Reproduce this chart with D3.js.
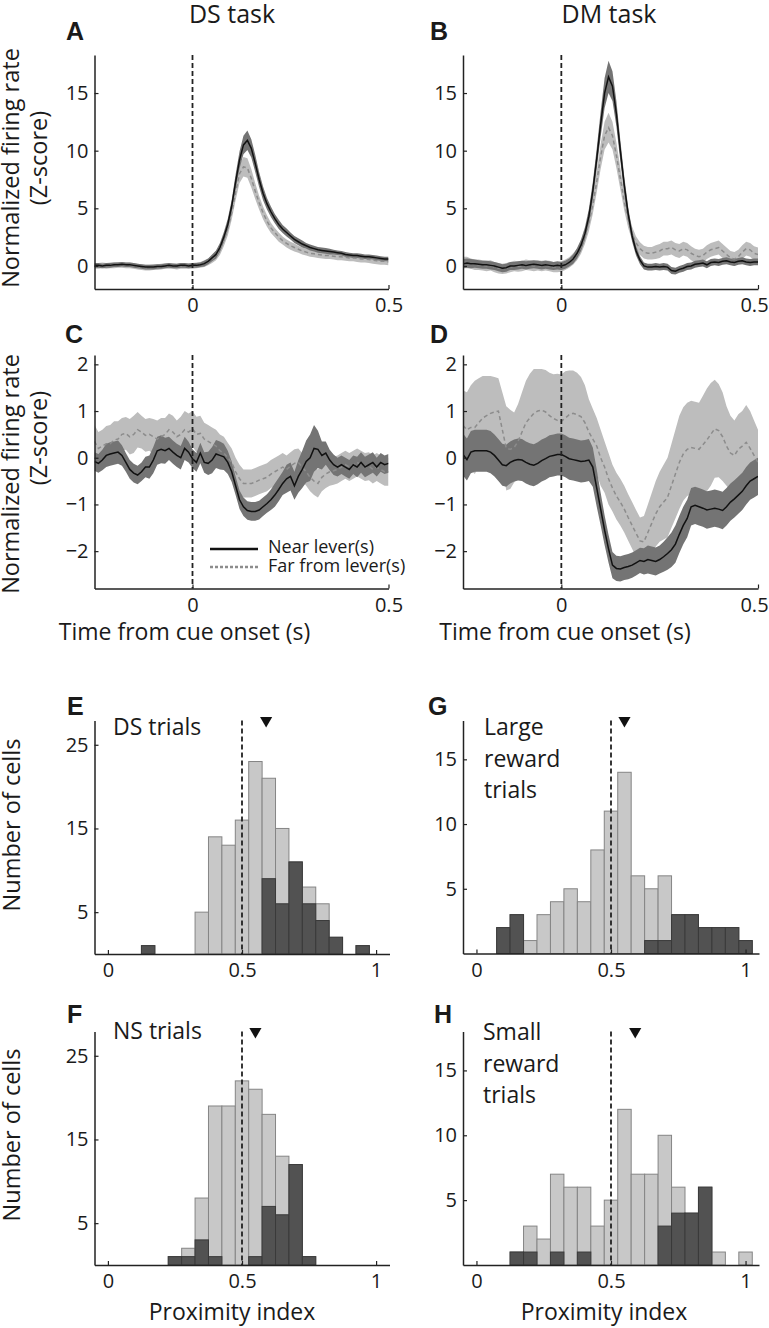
<!DOCTYPE html>
<html>
<head>
<meta charset="utf-8">
<script src="https://cdn.jsdelivr.net/npm/d3@7"></script>
<style>
  body { margin: 0; background: #fff; }
  svg text { font-family: 'Open Sans', sans-serif; fill: #1a1a1a; }
</style>
</head>
<body>
<div class="chart"></div>
<script>
// time bins (s) shared by the four PSTH panels
const times = [
  -0.25,-0.24,-0.23,-0.22,-0.21,-0.20,-0.19,-0.18,-0.17,-0.16,
  -0.15,-0.14,-0.13,-0.12,-0.11,-0.10,-0.09,-0.08,-0.07,-0.06,
  -0.05,-0.04,-0.03,-0.02,-0.01,0.00,0.01,0.02,0.03,0.04,
  0.05,0.06,0.07,0.08,0.09,0.10,0.11,0.12,0.13,0.14,
  0.15,0.16,0.17,0.18,0.19,0.20,0.21,0.22,0.23,0.24,
  0.25,0.26,0.27,0.28,0.29,0.30,0.31,0.32,0.33,0.34,
  0.35,0.36,0.37,0.38,0.39,0.40,0.41,0.42,0.43,0.44,
  0.45,0.46,0.47,0.48,0.49,0.50
];

// A: DS task, excited cells
const aNearMean = [
  0.05,0.05,0.0,0.05,0.05,0.1,0.1,0.15,0.1,0.1,
  0.05,0.0,-0.05,-0.1,-0.1,-0.1,-0.05,-0.05,0.0,0.05,
  0.0,0.0,0.05,0.05,0.0,0.05,0.05,0.1,0.2,0.4,
  0.7,1.0,1.6,2.5,3.6,5.2,7.3,9.2,10.5,10.9,
  10.2,8.9,7.5,6.3,5.4,4.7,4.1,3.6,3.2,2.9,
  2.6,2.3,2.1,1.9,1.75,1.6,1.5,1.4,1.35,1.3,
  1.25,1.2,1.15,1.1,1.0,0.95,0.9,0.9,0.85,0.8,
  0.8,0.75,0.7,0.65,0.6,0.6
];
const aNearSem = [
  0.2,0.2,0.2,0.2,0.2,0.2,0.2,0.2,0.2,0.2,
  0.2,0.2,0.2,0.2,0.2,0.2,0.2,0.2,0.2,0.2,
  0.2,0.2,0.2,0.2,0.2,0.2,0.2,0.2,0.25,0.25,
  0.3,0.35,0.4,0.45,0.5,0.55,0.65,0.75,0.8,0.85,
  0.8,0.75,0.65,0.6,0.5,0.45,0.4,0.4,0.35,0.35,
  0.3,0.3,0.3,0.3,0.25,0.25,0.25,0.25,0.25,0.25,
  0.25,0.2,0.2,0.2,0.2,0.2,0.2,0.2,0.2,0.2,
  0.2,0.2,0.2,0.2,0.2,0.2
];
const aFarMean = [
  0.0,0.0,0.05,0.0,0.05,0.05,0.1,0.1,0.05,0.05,
  0.0,-0.05,-0.1,-0.15,-0.15,-0.1,-0.1,-0.05,0.0,0.0,
  0.0,-0.05,0.0,0.0,0.0,0.0,0.05,0.1,0.2,0.35,
  0.6,0.9,1.4,2.2,3.2,4.6,6.4,8.0,8.6,8.5,
  7.6,6.5,5.5,4.6,3.9,3.3,2.9,2.5,2.2,1.95,
  1.75,1.6,1.45,1.3,1.2,1.1,1.05,1.0,0.95,0.9,
  0.9,0.85,0.8,0.8,0.75,0.7,0.7,0.65,0.6,0.6,
  0.55,0.5,0.45,0.4,0.4,0.35
];
const aFarSem = [
  0.25,0.25,0.25,0.25,0.25,0.25,0.25,0.25,0.25,0.25,
  0.25,0.25,0.25,0.25,0.25,0.25,0.25,0.25,0.25,0.25,
  0.25,0.25,0.25,0.25,0.25,0.25,0.25,0.25,0.3,0.3,
  0.35,0.4,0.45,0.5,0.55,0.6,0.7,0.8,0.85,0.85,
  0.8,0.7,0.6,0.55,0.5,0.45,0.4,0.4,0.35,0.35,
  0.35,0.35,0.3,0.3,0.3,0.3,0.3,0.3,0.3,0.3,
  0.3,0.3,0.3,0.3,0.3,0.3,0.3,0.3,0.3,0.3,
  0.3,0.3,0.3,0.3,0.3,0.3
];

// B: DM task, excited cells
const bNearMean = [
  0.2,0.25,0.2,0.2,0.15,0.1,0.1,0.05,0.0,-0.1,
  -0.2,-0.15,0.0,0.0,0.05,0.1,0.05,0.1,0.15,0.1,
  0.05,0.1,0.05,0.0,0.05,0.0,0.1,0.3,0.6,1.1,
  1.8,2.8,4.3,6.5,9.3,12.3,15.0,16.4,15.6,13.2,
  10.0,7.0,4.5,2.6,1.3,0.5,0.0,-0.1,-0.1,-0.05,
  -0.1,-0.05,-0.1,-0.4,-0.45,-0.3,-0.2,-0.05,0.0,0.15,
  0.2,0.25,0.1,0.3,0.35,0.3,0.4,0.45,0.35,0.3,
  0.4,0.45,0.35,0.3,0.35,0.35
];
const bNearSem = [
  0.4,0.4,0.4,0.35,0.35,0.35,0.35,0.35,0.35,0.35,
  0.35,0.35,0.35,0.35,0.35,0.35,0.35,0.35,0.35,0.35,
  0.35,0.35,0.35,0.35,0.35,0.35,0.35,0.35,0.4,0.45,
  0.5,0.55,0.65,0.75,0.9,1.1,1.3,1.4,1.3,1.1,
  0.9,0.75,0.6,0.5,0.4,0.35,0.3,0.3,0.3,0.3,
  0.3,0.3,0.3,0.3,0.3,0.3,0.3,0.3,0.3,0.3,
  0.3,0.3,0.3,0.3,0.3,0.3,0.3,0.3,0.3,0.3,
  0.3,0.3,0.3,0.3,0.3,0.3
];
const bFarMean = [
  0.3,0.3,0.2,0.1,0.1,0.05,0.0,0.05,-0.1,-0.2,
  -0.25,-0.2,-0.1,0.0,-0.05,0.0,0.1,0.05,0.0,0.05,
  0.0,0.05,0.0,-0.1,-0.1,-0.05,0.1,0.3,0.6,1.0,
  1.6,2.5,3.7,5.3,7.3,9.5,11.3,12.0,11.3,9.6,
  7.6,5.6,4.0,2.8,2.0,1.5,1.2,1.1,1.1,1.2,
  1.3,1.5,1.5,1.6,1.4,1.3,1.5,1.4,1.1,0.9,
  0.8,0.9,1.2,1.4,1.5,1.6,1.3,1.0,0.7,0.6,
  0.8,1.2,1.5,1.4,1.1,1.0
];
const bFarSem = [
  0.5,0.5,0.45,0.45,0.45,0.45,0.45,0.45,0.45,0.45,
  0.45,0.45,0.45,0.45,0.45,0.45,0.45,0.45,0.45,0.45,
  0.45,0.45,0.45,0.45,0.45,0.45,0.45,0.45,0.5,0.5,
  0.55,0.6,0.7,0.8,0.9,1.1,1.2,1.3,1.2,1.1,
  0.95,0.8,0.7,0.6,0.55,0.55,0.55,0.55,0.55,0.6,
  0.6,0.6,0.6,0.6,0.6,0.6,0.6,0.6,0.6,0.6,
  0.6,0.6,0.6,0.6,0.6,0.6,0.6,0.6,0.6,0.6,
  0.6,0.6,0.6,0.6,0.6,0.6
];

// C: DS task, inhibited cells
const cNearMean = [
  -0.08,-0.12,-0.05,0.05,0.08,0.1,0.12,0.05,-0.1,-0.25,
  -0.33,-0.37,-0.3,-0.2,-0.2,-0.05,0.15,0.18,0.15,0.2,
  0.12,0.05,0.0,0.2,0.12,-0.02,-0.1,0.1,-0.1,-0.12,
  -0.05,0.08,0.05,0.02,-0.1,-0.3,-0.6,-0.9,-1.05,-1.13,
  -1.15,-1.15,-1.12,-1.05,-0.98,-0.9,-0.8,-0.68,-0.55,-0.45,
  -0.4,-0.6,-0.4,-0.25,-0.08,0.0,0.2,0.18,0.05,0.1,
  -0.05,-0.15,-0.2,-0.15,-0.2,-0.25,-0.15,-0.2,-0.1,-0.2,
  -0.15,-0.1,-0.2,-0.1,-0.15,-0.12
];
const cNearSem = [
  0.2,0.2,0.22,0.25,0.25,0.25,0.25,0.22,0.2,0.2,
  0.2,0.2,0.2,0.22,0.25,0.28,0.3,0.3,0.28,0.25,
  0.25,0.25,0.25,0.25,0.22,0.2,0.2,0.22,0.22,0.25,
  0.28,0.3,0.3,0.28,0.25,0.22,0.2,0.2,0.2,0.2,
  0.2,0.2,0.2,0.2,0.2,0.22,0.25,0.25,0.25,0.3,
  0.3,0.3,0.35,0.4,0.45,0.5,0.5,0.4,0.3,0.25,
  0.22,0.22,0.2,0.2,0.2,0.2,0.2,0.22,0.22,0.22,
  0.22,0.22,0.2,0.2,0.2,0.2
];
const cFarMean = [
  0.35,0.2,0.25,0.3,0.3,0.38,0.4,0.5,0.52,0.45,
  0.5,0.6,0.55,0.48,0.5,0.45,0.4,0.45,0.5,0.6,
  0.55,0.45,0.5,0.6,0.55,0.62,0.5,0.52,0.4,0.35,
  0.3,0.25,0.15,0.1,0.0,-0.1,-0.3,-0.45,-0.55,-0.55,
  -0.55,-0.52,-0.48,-0.45,-0.42,-0.35,-0.3,-0.25,-0.2,-0.25,
  -0.18,-0.12,-0.1,-0.2,-0.3,-0.42,-0.5,-0.55,-0.42,-0.35,
  -0.3,-0.28,-0.25,-0.2,-0.15,-0.2,-0.15,-0.1,-0.15,-0.2,
  -0.18,-0.25,-0.2,-0.25,-0.3,-0.3
];
const cFarSem = [
  0.35,0.35,0.35,0.38,0.4,0.4,0.38,0.35,0.35,0.38,
  0.4,0.38,0.35,0.35,0.35,0.38,0.4,0.4,0.35,0.35,
  0.35,0.35,0.38,0.4,0.4,0.38,0.38,0.38,0.35,0.35,
  0.35,0.35,0.35,0.35,0.32,0.3,0.3,0.3,0.3,0.3,
  0.3,0.3,0.3,0.3,0.3,0.3,0.3,0.3,0.3,0.3,
  0.3,0.3,0.3,0.3,0.3,0.3,0.3,0.3,0.3,0.3,
  0.3,0.3,0.3,0.3,0.3,0.3,0.3,0.3,0.3,0.3,
  0.3,0.3,0.3,0.3,0.3,0.3
];

// D: DM task, inhibited cells
const dNearMean = [
  0.07,-0.04,0.12,0.15,0.15,0.15,0.15,0.12,0.05,-0.05,
  -0.15,-0.17,-0.1,-0.06,-0.04,-0.05,-0.1,-0.14,-0.16,-0.12,
  -0.06,-0.02,0.03,0.05,0.07,0.07,0.03,-0.02,-0.04,-0.06,
  -0.08,-0.07,-0.05,-0.2,-0.65,-1.1,-1.55,-1.95,-2.3,-2.37,
  -2.38,-2.35,-2.33,-2.3,-2.25,-2.2,-2.22,-2.18,-2.2,-2.22,
  -2.18,-2.12,-2.05,-1.97,-1.85,-1.64,-1.45,-1.3,-1.05,-1.02,
  -1.05,-1.08,-1.12,-1.1,-1.08,-1.1,-1.13,-1.05,-0.95,-0.88,
  -0.8,-0.72,-0.6,-0.5,-0.45,-0.4
];
const dNearSem = [
  0.45,0.45,0.45,0.45,0.45,0.45,0.45,0.45,0.45,0.45,
  0.45,0.45,0.45,0.45,0.45,0.45,0.45,0.45,0.45,0.45,
  0.45,0.45,0.45,0.45,0.45,0.45,0.45,0.45,0.45,0.45,
  0.45,0.45,0.45,0.42,0.4,0.35,0.32,0.3,0.28,0.27,
  0.27,0.27,0.27,0.27,0.27,0.27,0.28,0.3,0.3,0.3,
  0.3,0.32,0.35,0.37,0.4,0.4,0.4,0.4,0.4,0.4,
  0.4,0.4,0.4,0.4,0.4,0.4,0.4,0.4,0.4,0.4,
  0.4,0.4,0.4,0.4,0.4,0.4
];
const dFarMean = [
  0.69,0.6,0.65,0.65,0.75,0.85,0.9,0.95,0.98,1.0,
  0.6,0.2,0.18,0.22,0.35,0.55,0.75,0.85,0.95,1.0,
  1.02,0.98,0.9,0.84,0.8,0.78,0.85,0.92,0.95,0.92,
  0.88,0.75,0.55,0.4,0.25,0.0,-0.2,-0.45,-0.65,-0.82,
  -0.95,-1.1,-1.28,-1.45,-1.62,-1.78,-1.8,-1.6,-1.4,-1.2,
  -1.05,-0.95,-0.85,-0.6,-0.35,-0.1,0.08,0.18,0.22,0.2,
  0.18,0.28,0.38,0.5,0.62,0.58,0.45,0.25,0.1,0.05,
  0.18,0.25,0.33,0.2,0.05,-0.1
];
const dFarSem = [
  0.75,0.8,0.9,1.0,0.95,0.9,0.85,0.8,0.75,0.7,
  0.8,0.9,0.85,0.75,0.8,0.85,0.9,0.95,0.95,0.9,
  0.88,0.9,0.92,0.95,1.0,1.0,1.0,0.95,0.92,0.9,
  0.85,0.8,0.7,0.65,0.6,0.6,0.55,0.55,0.5,0.5,
  0.5,0.5,0.5,0.5,0.5,0.5,0.55,0.6,0.65,0.7,
  0.75,0.8,0.85,0.9,0.95,1.0,1.0,1.0,1.0,1.0,
  1.0,1.05,1.1,1.1,1.05,1.0,0.95,0.85,0.8,0.75,
  0.75,0.75,0.8,0.8,0.75,0.7
];

// proximity index histograms (bin centres, all cells / significant cells)
const binCenters = [0,0.05,0.1,0.15,0.2,0.25,0.3,0.35,0.4,0.45,0.5,0.55,0.6,0.65,0.7,0.75,0.8,0.85,0.9,0.95,1.0];
const eAll  = [0,0,0,1,0,0,0,5,14,13,16,23,21,15,11,8,6,2,0,1,0];
const eSig  = [0,0,0,1,0,0,0,0,0,0,0,0,9,6,11,6,4,2,0,1,0];
const fAll  = [0,0,0,0,0,1,2,8,19,19,22,21,18,13,12,1,0,0,0,0,0];
const fSig  = [0,0,0,0,0,1,1,3,1,0,0,1,7,6,12,1,0,0,0,0,0];
const gAll  = [0,0,2,3,1,3,4,5,4,8,11,14,6,5,6,3,3,2,2,2,1];
const gSig  = [0,0,2,3,0,0,0,0,0,0,0,0,0,1,1,3,3,2,2,2,1];
const hAll  = [0,0,0,1,3,2,7,6,6,3,5,12,7,7,10,6,4,6,1,0,1];
const hSig  = [0,0,0,1,1,0,1,0,1,0,0,0,0,0,3,4,4,6,0,0,0];
const histMeans = {E: 0.59, F: 0.55, G: 0.55, H: 0.59};

const psthXTicks = [0, 0.5];
const histXTicks = [0, 0.5, 1];

const svg = d3.select('.chart').append('svg')
  .attr('width', 769)
  .attr('height', 1328)
  .attr('xmlns', 'http://www.w3.org/2000/svg');

const fmt = d3.format('');
const ink = '#222';

function styleAxis(g) {
  g.attr('font-size', 20).attr('font-family', "'Open Sans', sans-serif").attr('color', ink);
  g.select('.domain').attr('stroke-width', 1.5);
  g.selectAll('.tick line').attr('stroke-width', 1.2);
}

function timePanel(p) {
  const x = d3.scaleLinear().domain([-0.25, 0.5]).range([p.left, p.right]);
  const y = d3.scaleLinear().domain(p.yDomain).range([p.bottom, p.top]);

  svg.append('clipPath').attr('id', 'clip' + p.id)
    .append('rect')
      .attr('x', p.left).attr('y', p.top)
      .attr('width', p.right - p.left).attr('height', p.bottom - p.top);

  const plot = svg.append('g').attr('clip-path', 'url(#clip' + p.id + ')');

  const band = (m, s) => d3.area()
    .x((d, i) => x(times[i]))
    .y0((d, i) => y(m[i] - s[i]))
    .y1((d, i) => y(m[i] + s[i]));
  const line = d3.line()
    .x((d, i) => x(times[i]))
    .y(d => y(d));

  plot.append('path').datum(p.farMean)
    .attr('d', band(p.farMean, p.farSem))
    .attr('fill', '#bdbdbd');
  plot.append('path').datum(p.nearMean)
    .attr('d', band(p.nearMean, p.nearSem))
    .attr('fill', '#747474');
  plot.append('path').datum(p.farMean)
    .attr('d', line)
    .attr('fill', 'none')
    .attr('stroke', '#8c8c8c')
    .attr('stroke-width', 1.5)
    .attr('stroke-dasharray', '4,3');
  plot.append('path').datum(p.nearMean)
    .attr('d', line)
    .attr('fill', 'none')
    .attr('stroke', '#111')
    .attr('stroke-width', 1.5);

  // cue onset
  svg.append('line')
    .attr('x1', x(0)).attr('x2', x(0))
    .attr('y1', p.top).attr('y2', p.bottom)
    .attr('stroke', ink)
    .attr('stroke-width', 1.8)
    .attr('stroke-dasharray', '5,3');

  const xAxis = svg.append('g')
    .attr('transform', 'translate(0,' + p.bottom + ')')
    .call(d3.axisBottom(x).tickValues(psthXTicks).tickFormat(fmt)
      .tickSize(-4).tickSizeOuter(0).tickPadding(9))
    .call(styleAxis);
  // right column: keep the last label inside the page
  if (p.nudgeLast) {
    xAxis.selectAll('.tick text').filter(d => d === 0.5).attr('dx', -p.nudgeLast);
  }

  svg.append('g')
    .attr('transform', 'translate(' + p.left + ',0)')
    .call(d3.axisLeft(y).tickValues(p.yTicks).tickFormat(fmt)
      .tickSize(-4).tickSizeOuter(0).tickPadding(6))
    .call(styleAxis);
}

function histPanel(p) {
  const x = d3.scaleLinear().domain([-0.05, 1.05]).range([p.left, p.right]);
  const y = d3.scaleLinear().domain(p.yDomain).range([p.bottom, p.top]);
  const half = 0.025;
  const bins = binCenters.map((c, i) => ({c, all: p.all[i], sig: p.sig[i]}));

  svg.append('g').selectAll('rect')
    .data(bins.filter(d => d.all > 0))
    .enter().append('rect')
      .attr('x', d => x(d.c - half))
      .attr('width', d => x(d.c + half) - x(d.c - half))
      .attr('y', d => y(d.all))
      .attr('height', d => y(0) - y(d.all))
      .attr('fill', '#c8c8c8')
      .attr('stroke', '#858585')
      .attr('stroke-width', 1);

  svg.append('g').selectAll('rect')
    .data(bins.filter(d => d.sig > 0))
    .enter().append('rect')
      .attr('x', d => x(d.c - half))
      .attr('width', d => x(d.c + half) - x(d.c - half))
      .attr('y', d => y(d.sig))
      .attr('height', d => y(0) - y(d.sig))
      .attr('fill', '#525252')
      .attr('stroke', '#3a3a3a')
      .attr('stroke-width', 1);

  svg.append('line')
    .attr('x1', x(0.5)).attr('x2', x(0.5))
    .attr('y1', p.top).attr('y2', p.bottom)
    .attr('stroke', ink)
    .attr('stroke-width', 1.8)
    .attr('stroke-dasharray', '5,3');

  // population mean
  svg.append('path')
    .attr('d', d3.symbol(d3.symbolTriangle, 64)())
    .attr('transform', 'translate(' + x(p.mean) + ',' + y(p.yDomain[1]) + ') rotate(180)')
    .attr('fill', '#111');

  svg.append('g')
    .attr('transform', 'translate(0,' + p.bottom + ')')
    .call(d3.axisBottom(x).tickValues(histXTicks).tickFormat(fmt)
      .tickSize(-4).tickSizeOuter(0).tickPadding(9))
    .call(styleAxis);

  svg.append('g')
    .attr('transform', 'translate(' + p.left + ',0)')
    .call(d3.axisLeft(y).tickValues(p.yTicks).tickFormat(fmt)
      .tickSize(-4).tickSizeOuter(0).tickPadding(6))
    .call(styleAxis);

  p.label.forEach((t, i) => {
    svg.append('text')
      .attr('x', p.labelX)
      .attr('y', p.labelY + i * 31.7)
      .attr('font-size', 23)
      .text(t);
  });
}

timePanel({id: 'A', left: 94.5, right: 388.5, top: 55, bottom: 289,
  yDomain: [-2, 18.3], yTicks: [0, 5, 10, 15],
  nearMean: aNearMean, nearSem: aNearSem, farMean: aFarMean, farSem: aFarSem});
timePanel({id: 'B', left: 463, right: 758, top: 55, bottom: 289, nudgeLast: 4,
  yDomain: [-2, 18.3], yTicks: [0, 5, 10, 15],
  nearMean: bNearMean, nearSem: bNearSem, farMean: bFarMean, farSem: bFarSem});
timePanel({id: 'C', left: 94.5, right: 388.5, top: 355, bottom: 588.5,
  yDomain: [-2.8, 2.2], yTicks: [-2, -1, 0, 1, 2],
  nearMean: cNearMean, nearSem: cNearSem, farMean: cFarMean, farSem: cFarSem});
timePanel({id: 'D', left: 463, right: 758, top: 355, bottom: 588.5, nudgeLast: 4,
  yDomain: [-2.8, 2.2], yTicks: [-2, -1, 0, 1, 2],
  nearMean: dNearMean, nearSem: dNearSem, farMean: dFarMean, farSem: dFarSem});

histPanel({left: 94.5, right: 389.5, top: 720.5, bottom: 954, yDomain: [0, 27.9], yTicks: [5, 15, 25],
  all: eAll, sig: eSig, mean: histMeans.E, label: ['DS trials'], labelX: 113, labelY: 735});
histPanel({left: 94.5, right: 389.5, top: 1031.5, bottom: 1265, yDomain: [0, 27.9], yTicks: [5, 15, 25],
  all: fAll, sig: fSig, mean: histMeans.F, label: ['NS trials'], labelX: 113, labelY: 1039});
histPanel({left: 463, right: 759, top: 720.5, bottom: 953.5, yDomain: [0, 18], yTicks: [5, 10, 15],
  all: gAll, sig: gSig, mean: histMeans.G, label: ['Large', 'reward', 'trials'], labelX: 484, labelY: 735});
histPanel({left: 463, right: 759, top: 1031.5, bottom: 1265, yDomain: [0, 18], yTicks: [5, 10, 15],
  all: hAll, sig: hSig, mean: histMeans.H, label: ['Small', 'reward', 'trials'], labelX: 483, labelY: 1040});

// legend in C
svg.append('line').attr('x1', 210).attr('x2', 258).attr('y1', 549).attr('y2', 549)
  .attr('stroke', '#111').attr('stroke-width', 2.5);
svg.append('line').attr('x1', 210).attr('x2', 258).attr('y1', 567).attr('y2', 567)
  .attr('stroke', '#8c8c8c').attr('stroke-width', 2.5).attr('stroke-dasharray', '3,2');
svg.append('text').attr('x', 268).attr('y', 553).attr('font-size', 18).text('Near lever(s)');
svg.append('text').attr('x', 268).attr('y', 572).attr('font-size', 18).text('Far from lever(s)');

// column titles
svg.append('text').attr('x', 232).attr('y', 23).attr('font-size', 25)
  .attr('text-anchor', 'middle').text('DS task');
svg.append('text').attr('x', 609).attr('y', 23).attr('font-size', 25)
  .attr('text-anchor', 'middle').text('DM task');

// panel letters
const letters = [
  ['A', 66, 40], ['B', 430, 40], ['C', 65, 343], ['D', 430, 343],
  ['E', 67, 715], ['G', 428, 715], ['F', 67, 1023], ['H', 434, 1023]
];
letters.forEach(([t, lx, ly]) => {
  svg.append('text').attr('x', lx).attr('y', ly)
    .attr('font-size', 25).attr('font-weight', 'bold')
    .style('font-family', "'Liberation Sans', Arial, sans-serif")
    .text(t);
});

// y-axis titles
const yTitle = (lines, cy) => {
  lines.forEach(([t, bx, dy]) => {
    svg.append('text')
      .attr('transform', 'translate(' + bx + ',' + (cy + dy) + ') rotate(-90)')
      .attr('text-anchor', 'middle')
      .attr('font-size', 23.5)
      .text(t);
  });
};
yTitle([['Normalized firing rate', 18.5, 0], ['(Z-score)', 46.5, -10]], 168);
yTitle([['Normalized firing rate', 18.5, 0], ['(Z-score)', 46.5, -36]], 474);
yTitle([['Number of cells', 19.5, 0]], 825);
yTitle([['Number of cells', 19.5, 0]], 1135);

// x-axis titles
[[184.5, 640, 'Time from cue onset (s)'], [565, 640, 'Time from cue onset (s)'],
 [232, 1320, 'Proximity index'], [604, 1320, 'Proximity index']].forEach(([tx, ty, t]) => {
  svg.append('text').attr('x', tx).attr('y', ty).attr('font-size', 23)
    .attr('text-anchor', 'middle').text(t);
});
</script>
</body>
</html>
